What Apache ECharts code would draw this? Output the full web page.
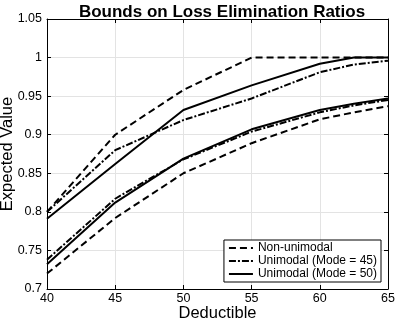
<!DOCTYPE html>
<html>
<head>
<meta charset="utf-8">
<script src="https://cdn.jsdelivr.net/npm/echarts@6/dist/echarts.min.js"></script>
<style>
  html, body { margin: 0; padding: 0; background: #fff; }
  #main { width: 395px; height: 323px; }
</style>
</head>
<body>
<div id="main"></div>
<script>
// deductible values (x) and bounds
const deductibles = [40, 45, 50, 55, 60, 62.5, 65];
const nonUniUpper = [0.800, 0.900, 0.958, 1.000, 1.000, 1.000, 1.000];
const nonUniLower = [0.720, 0.792, 0.850, 0.889, 0.920, 0.929, 0.937];
const mode45Upper = [0.800, 0.880, 0.919, 0.947, 0.981, 0.991, 0.996];
const mode45Lower = [0.738, 0.817, 0.868, 0.904, 0.929, 0.938, 0.945];
const mode50Upper = [0.791, 0.862, 0.932, 0.964, 0.992, 1.000, 1.000];
const mode50Lower = [0.732, 0.812, 0.869, 0.907, 0.932, 0.940, 0.947];
const legendNames = ['Non-unimodal', 'Unimodal (Mode = 45)', 'Unimodal (Mode = 50)'];

const FONT = 'Liberation Sans';

function pts(ys) {
    return deductibles.map((x, i) => [x, ys[i]]);
}

// line styles: dashed, dash-dot, solid
const dashStyles = [[7, 4], [7, 2, 2, 2], 'solid'];

function mk(name, ys, k) {
    return {
        name: name,
        type: 'line',
        data: pts(ys),
        showSymbol: false,
        symbol: 'none',
        smooth: false,
        lineStyle: { color: '#000', width: 2, type: dashStyles[k] },
        itemStyle: { color: '#000' },
        z: 5 - k
    };
}

let myChart = echarts.init(document.getElementById('main'));
let option = {
    animation: false,
    title: {
        text: 'Bounds on Loss Elimination Ratios',
        left: 217,
        textAlign: 'center',
        top: -1,
        textStyle: { fontFamily: FONT, fontSize: 17, fontWeight: 'bold', color: '#000' }
    },
    grid: { left: 47, right: 7, top: 19, bottom: 34, outerBoundsMode: 'none', containLabel: false },
    legend: {
        orient: 'vertical',
        right: 14,
        bottom: 41,
        data: legendNames,
        itemWidth: 24,
        itemHeight: 10,
        itemGap: 1,
        padding: [2, 4, 2, 4],
        backgroundColor: '#fff',
        borderColor: '#000',
        borderWidth: 1,
        borderRadius: 0,
        // hide the marker symbol, keep only the line sample
        itemStyle: { color: 'rgba(0,0,0,0)', borderColor: 'rgba(0,0,0,0)', borderWidth: 0 },
        textStyle: { fontFamily: FONT, fontSize: 12, color: '#000' }
    },
    xAxis: [{
        type: 'value',
        min: 40, max: 65, interval: 5,
        name: 'Deductible',
        nameLocation: 'middle',
        nameGap: 16,
        nameMoveOverlap: false,
        nameTextStyle: { fontFamily: FONT, fontSize: 16.5, color: '#000' },
        axisLine: { lineStyle: { color: '#000', width: 1 } },
        axisTick: { inside: true, length: 4, lineStyle: { color: '#000' } },
        axisLabel: { fontFamily: FONT, fontSize: 12.5, color: '#000', margin: 3 },
        splitLine: { show: true, lineStyle: { color: '#e3e3e3', width: 1 } }
    }, {
        type: 'value', position: 'top',
        min: 40, max: 65, interval: 5,
        axisLine: { show: true, lineStyle: { color: '#000', width: 1 } },
        axisTick: { show: true, inside: true, length: 4, lineStyle: { color: '#000' } },
        axisLabel: { show: false },
        splitLine: { show: false }
    }],
    yAxis: [{
        type: 'value',
        min: 0.7, max: 1.05, interval: 0.05,
        name: 'Expected Value',
        nameLocation: 'middle',
        nameGap: 31,
        nameMoveOverlap: false,
        nameTextStyle: { fontFamily: FONT, fontSize: 16.5, color: '#000' },
        axisLine: { show: true, lineStyle: { color: '#000', width: 1 } },
        axisTick: { show: true, inside: true, length: 4, lineStyle: { color: '#000' } },
        axisLabel: { fontFamily: FONT, fontSize: 12.5, color: '#000', margin: 5 },
        splitLine: { show: true, lineStyle: { color: '#e3e3e3', width: 1 } }
    }, {
        type: 'value', position: 'right',
        min: 0.7, max: 1.05, interval: 0.05,
        axisLine: { show: true, lineStyle: { color: '#000', width: 1 } },
        axisTick: { show: true, inside: true, length: 4, lineStyle: { color: '#000' } },
        axisLabel: { show: false },
        splitLine: { show: false }
    }],
    series: [
        mk(legendNames[0], nonUniUpper, 0),
        mk(legendNames[1], mode45Upper, 1),
        mk(legendNames[2], mode50Upper, 2),
        mk(legendNames[0], nonUniLower, 0),
        mk(legendNames[1], mode45Lower, 1),
        mk(legendNames[2], mode50Lower, 2)
    ]
};
myChart.setOption(option);
</script>
</body>
</html>
